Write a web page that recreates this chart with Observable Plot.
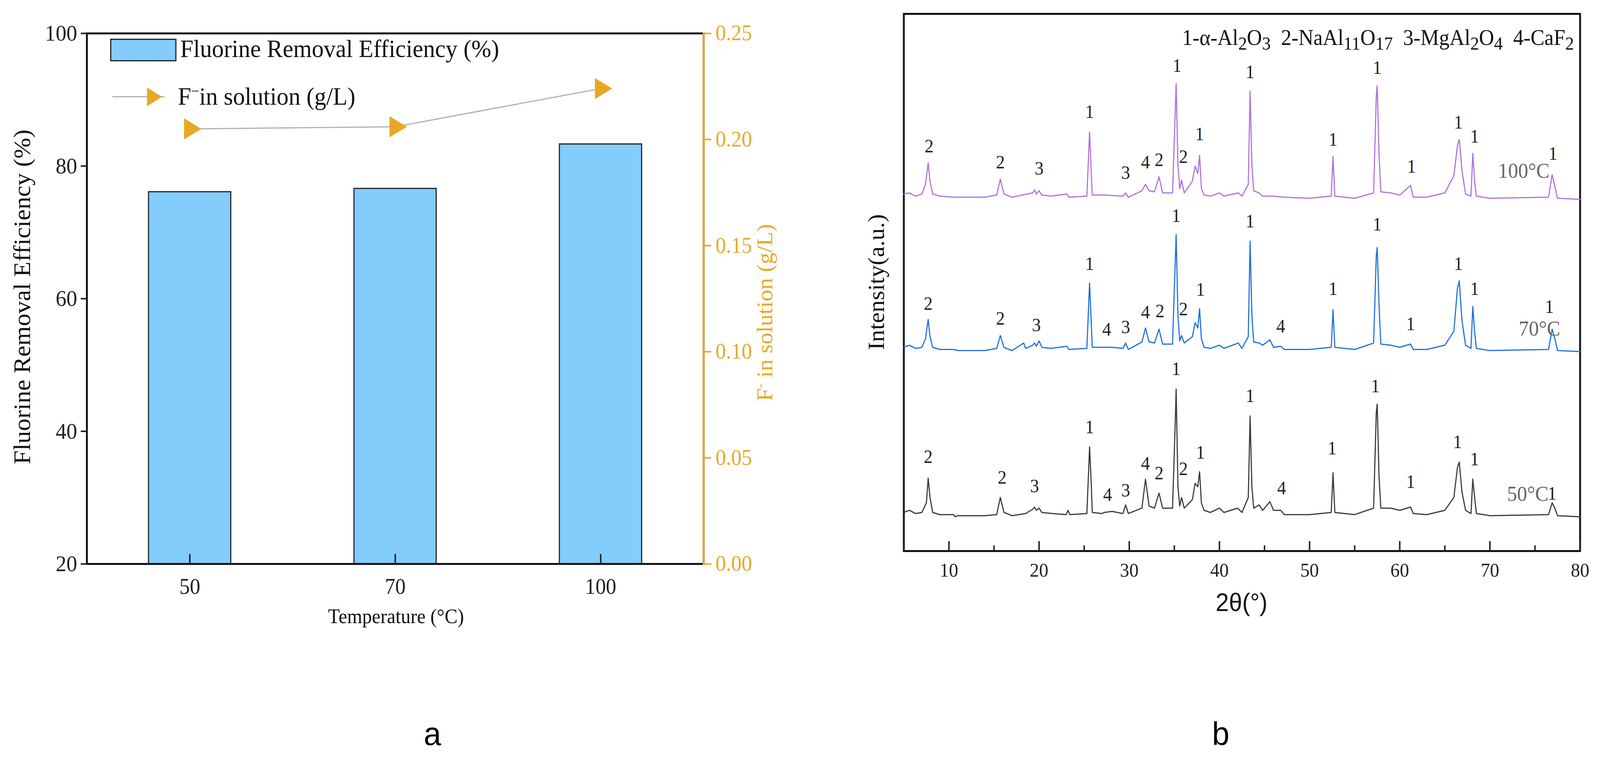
<!DOCTYPE html>
<html><head><meta charset="utf-8">
<script src="https://cdn.jsdelivr.net/npm/d3@7"></script>
<script src="https://cdn.jsdelivr.net/npm/@observablehq/plot@0.6"></script>
<style>
html,body{margin:0;background:#fff;overflow:hidden;}
#root{position:relative;width:4299px;height:1953px;transform-origin:0 0;font-family:"Liberation Serif",serif;}
#root svg, #root svg text{font-family:"Liberation Serif",serif !important;}
.abs{position:absolute;white-space:nowrap;}
.rot{transform:translate(-50%,-50%) rotate(-90deg);}
</style></head><body>
<div id="root"></div>
<script>
// ---------- Panel a data ----------
const temps = ["50","70","100"];
const efficiency = [76.1, 76.6, 83.3];
const fluoride = [0.205, 0.206, 0.224];
const leftTicks = [20,40,60,80,100];
const rightTicks = [0,0.05,0.10,0.15,0.20,0.25];

// ---------- Panel b data (2θ, intensity a.u.) ----------
const xrd50 = [[5,36],[5.6,38],[6.3,35],[7.0,36],[7.5,45],[7.7,68],[7.9,50],[8.2,36],[9,34],[10.5,34],[10.7,32],[11,33],[14,33],[15.3,34],[15.7,50],[16.1,36],[17,33],[18.5,35],[19.3,39],[19.5,41],[19.7,38],[20,40],[20.3,36],[21.5,35],[23,34],[23.2,38],[23.4,34],[25.3,35],[25.6,97],[25.8,60],[25.9,36],[27,35],[27.2,36],[28.1,37],[29.3,35],[29.6,43],[29.9,35],[31.4,40],[31.8,67],[32.2,42],[32.8,40],[33.3,54],[33.7,40],[34.8,40],[35.1,120],[35.2,151],[35.4,60],[35.6,42],[35.8,50],[36.1,40],[37.0,48],[37.3,63],[37.6,60],[37.8,74],[38.0,45],[38.3,38],[39,36],[40,40],[40.5,36],[42,40],[42.5,36],[43.2,50],[43.4,126],[43.6,60],[43.8,40],[44.4,43],[44.8,38],[45.6,46],[46,38],[46.8,38],[47.2,34],[50,34],[52.4,36],[52.6,73],[52.8,36],[55,34],[57.1,40],[57.4,130],[57.5,137],[57.7,70],[57.9,40],[59,40],[60,38],[61.2,41],[61.5,35],[63,34],[65,38],[66,50],[66.4,78],[66.6,83],[66.9,55],[67.3,38],[67.9,35],[68.1,67],[68.3,50],[68.5,35],[70,33],[76.5,34],[76.9,45],[77.2,40],[77.5,33],[80,32]];
const xrd70 = [[5,190],[5.6,192],[6.3,189],[7.0,190],[7.4,198],[7.7,216],[7.9,200],[8.2,190],[9,188],[10.5,188],[11,187],[14,187],[15.3,189],[15.7,201],[16.1,190],[17,187],[18.3,194],[18.5,189],[19.3,192],[19.5,194],[19.7,191],[20,196],[20.3,190],[21.3,189],[23.1,191],[23.3,188],[25.3,189],[25.6,250],[25.8,210],[25.9,190],[27.2,190],[28.1,190],[29.3,189],[29.6,194],[29.9,188],[31.4,195],[31.8,208],[32.2,195],[32.8,194],[33.3,207],[33.7,193],[34.8,193],[35.1,270],[35.2,295],[35.4,220],[35.6,196],[35.8,201],[36.1,194],[37.0,200],[37.3,213],[37.6,208],[37.8,226],[38.0,198],[38.3,190],[39,189],[40,192],[40.5,189],[42.1,194],[42.5,189],[43.2,200],[43.4,289],[43.6,220],[43.8,195],[44.4,194],[44.8,192],[45.6,197],[46,190],[46.8,191],[47.2,188],[50,188],[52.4,190],[52.6,225],[52.8,190],[55,188],[57.1,194],[57.4,276],[57.5,283],[57.7,230],[57.9,193],[59,192],[60,190],[61.2,193],[61.5,188],[63,188],[65,192],[66,205],[66.4,245],[66.6,252],[66.9,215],[67.3,192],[67.9,189],[68.1,228],[68.3,205],[68.5,189],[70,187],[76.5,188],[76.9,207],[77.2,198],[77.5,187],[80,186]];
const xrd100 = [[5,333],[5.6,334],[6.3,331],[7.0,333],[7.4,342],[7.7,362],[7.9,345],[8.2,333],[9,331],[10.5,330],[11,330],[14,330],[15.3,332],[15.7,347],[16.1,333],[17,330],[19.3,334],[19.5,337],[19.7,333],[20,336],[20.3,332],[21.3,331],[23.1,333],[23.3,330],[25.3,331],[25.6,391],[25.8,350],[25.9,332],[27.2,332],[29.3,331],[29.6,334],[29.9,330],[31.4,336],[31.8,342],[32.2,336],[32.8,335],[33.3,349],[33.7,334],[34.8,334],[35.1,410],[35.2,436],[35.4,360],[35.6,338],[35.8,346],[36.1,334],[37.0,345],[37.3,359],[37.6,352],[37.8,369],[38.0,338],[38.3,332],[39,331],[40,334],[40.5,331],[42.1,334],[42.5,331],[43.2,342],[43.4,429],[43.6,360],[43.8,336],[44.4,334],[44.8,331],[46,331],[47.2,330],[50,329],[52.4,331],[52.6,368],[52.8,331],[55,329],[57.1,334],[57.4,425],[57.5,434],[57.7,370],[57.9,335],[59,334],[60,332],[61.2,341],[61.5,330],[63,330],[65,334],[66,350],[66.4,378],[66.6,384],[66.9,355],[67.3,333],[67.9,331],[68.1,371],[68.3,345],[68.5,331],[70,329],[76.5,330],[76.9,351],[77.2,340],[77.5,329],[80,328]];
const labels50 = [[7.7,82,"2"],[15.9,63,"2"],[19.5,55,"3"],[25.6,110,"1"],[27.6,47,"4"],[29.6,51,"3"],[31.8,76,"4"],[33.3,67,"2"],[35.2,164,"1"],[36,71,"2"],[37.9,86,"1"],[43.4,139,"1"],[46.9,53,"4"],[52.5,90,"1"],[57.3,148,"1"],[61.2,59,"1"],[66.4,96,"1"],[68.3,80,"1"],[76.9,48,"1"]];
const labels70 = [[7.7,225,"2"],[15.7,211,"2"],[19.7,205,"3"],[25.6,262,"1"],[27.5,201,"4"],[29.6,203,"3"],[31.8,217,"4"],[33.4,218,"2"],[35.2,307,"1"],[36,220,"2"],[37.9,238,"1"],[43.4,302,"1"],[46.8,204,"4"],[52.6,239,"1"],[57.5,299,"1"],[61.2,206,"1"],[66.5,262,"1"],[68.3,239,"1"],[76.6,222,"1"]];
const labels100 = [[7.8,372,"2"],[15.7,357,"2"],[20,351,"3"],[25.6,404,"1"],[29.6,347,"3"],[31.8,357,"4"],[33.3,359,"2"],[35.3,447,"1"],[36,362,"2"],[37.8,383,"1"],[43.4,441,"1"],[52.6,378,"1"],[57.5,445,"1"],[61.3,353,"1"],[66.5,394,"1"],[68.3,381,"1"],[77,365,"1"]];
const seriesNames = ["50°C","70°C","100°C"];
const seriesColors = ["#3a3a3a","#1f6fe0","#b072dc"];
const seriesLabelPos = [[71.9,47],[73.2,201],[70.9,348]];

const serif = "Liberation Serif";
const gold = "#e8a825";
const root = document.getElementById("root");
root.style.transform = `scale(${window.innerWidth / 4299}, ${window.innerHeight / 1953})`;

// ---------- Panel a ----------
const toLeft = v => 20 + v / 0.25 * 80;
const rowsA = temps.map((t,i)=>({t, eff: efficiency[i], f: toLeft(fluoride[i])}));
const plotA = Plot.plot({
  width: 2100, height: 1600,
  marginLeft: 233, marginRight: 210, marginTop: 85, marginBottom: 157,
  style: {fontFamily: serif, background: "transparent", overflow: "visible"},
  x: {type: "band", domain: temps, padding: 0.6, paddingOuter: 0.3, label: null},
  y: {domain: [20, 100], label: null},
  marks: [
    Plot.barY(rowsA, {x: "t", y1: 20, y2: "eff", fill: "#82cdfc", stroke: "#222", strokeWidth: 3}),
    Plot.frame({stroke: "#111", strokeWidth: 5}),
    Plot.frame({anchor: "right", stroke: gold, strokeWidth: 5}),
    Plot.axisY({anchor: "left", ticks: leftTicks, tickSize: 16, tickPadding: 10, fontSize: 58, fontFamily: serif, tickFormat: d => d, strokeWidth: 4, color: "#222"}),
    Plot.axisY({anchor: "right", ticks: rightTicks.map(toLeft), tickSize: 20, tickPadding: 12, fontSize: 56, fontFamily: serif,
      tickFormat: d => ((d - 20) / 80 * 0.25).toFixed(2), color: gold, strokeWidth: 4}),
    Plot.axisX({anchor: "bottom", tickSize: -25, tickPadding: 62, fontSize: 56, fontFamily: serif, strokeWidth: 4, color: "#222"}),
    Plot.lineY(rowsA, {x: "t", y: "f", stroke: "#b0b0b0", strokeWidth: 3}),
    Plot.dot(rowsA, {x: "t", y: "f", symbol: "triangle", rotate: 90, r: 20, fill: gold, stroke: "none"})
  ]
});
plotA.style.position = "absolute"; plotA.style.left = "0px"; plotA.style.top = "0px";
root.appendChild(plotA);

// ---------- Panel b ----------
const toRows = (arr, s) => arr.map(([x,y]) => ({x, y, s}));
const linesB = [...toRows(xrd50, seriesNames[0]), ...toRows(xrd70, seriesNames[1]), ...toRows(xrd100, seriesNames[2])];
const labRows = [...labels50, ...labels70, ...labels100].map(([x,y,t]) => ({x, y, t}));
const nameRows = seriesNames.map((s,i)=>({s, x: seriesLabelPos[i][0], y: seriesLabelPos[i][1]}));
const plotB = Plot.plot({
  width: 2099, height: 1600,
  marginLeft: 228, marginRight: 54, marginTop: 35, marginBottom: 190,
  style: {fontFamily: serif, background: "transparent", overflow: "visible"},
  x: {domain: [5, 80], label: null},
  y: {domain: [0, 501], axis: null},
  color: {domain: seriesNames, range: seriesColors},
  marks: [
    Plot.frame({stroke: "#111", strokeWidth: 5}),
    Plot.axisX({ticks: d3.range(10, 81, 10), tickSize: -25, tickPadding: 55, fontSize: 50, fontFamily: serif, strokeWidth: 4, color: "#222"}),
    Plot.axisX({ticks: d3.range(5, 80, 10), tickSize: -14, tickFormat: () => "", strokeWidth: 4, color: "#222"}),
    Plot.line(linesB, {x: "x", y: "y", z: "s", stroke: "s", strokeWidth: 3}),
    Plot.text(labRows, {x: "x", y: "y", text: "t", fontSize: 48, fontFamily: serif, fill: "#222", lineAnchor: "bottom"}),
    Plot.text(nameRows, {x: "x", y: "y", text: "s", fontSize: 54, fontFamily: serif, fill: "#666", textAnchor: "start", lineAnchor: "bottom"})
  ]
});
plotB.style.position = "absolute"; plotB.style.left = "2200px"; plotB.style.top = "0px";
root.appendChild(plotB);

// ---------- Texts ----------
function addDiv(html, css){ const d = document.createElement("div"); d.className = "abs"; d.innerHTML = html; Object.assign(d.style, css); root.appendChild(d); return d; }
addDiv("", {left:"296px", top:"99px", width:"172px", height:"52px", background:"#82cdfc", border:"3px solid #222"});
addDiv("Fluorine Removal Efficiency (%)", {left:"484px", top:"88px", fontSize:"64px", color:"#111"});
addDiv("", {left:"302px", top:"246px", width:"140px", height:"3px", background:"#b0b0b0"});
addDiv("", {left:"395px", top:"224px", width:"0", height:"0", borderTop:"24px solid transparent", borderBottom:"24px solid transparent", borderLeft:"40px solid " + gold});
addDiv("F<sup style='font-size:0.6em'>−</sup>in solution (g/L)", {left:"478px", top:"210px", fontSize:"64px", color:"#111"});
addDiv("Fluorine Removal Efficiency (%)", {left:"60px", top:"760px", fontSize:"64px", color:"#111"}).classList.add("rot");
addDiv("F<sup style='font-size:0.6em'>-</sup> in solution (g/L)", {left:"2055px", top:"800px", fontSize:"60px", color:gold}).classList.add("rot");
addDiv("Temperature (°C)", {left:"1064px", top:"1548px", fontSize:"52px", color:"#111", transform:"translateX(-50%)"});
addDiv("Intensity(a.u.)", {left:"2355px", top:"722px", fontSize:"62px", color:"#111"}).classList.add("rot");
addDiv("2θ(°)", {left:"3336px", top:"1505px", fontSize:"64px", color:"#111", fontFamily:"Liberation Sans", transform:"translateX(-50%)"});
addDiv("1-α-Al<sub>2</sub>O<sub>3</sub>&nbsp; 2-NaAl<sub>11</sub>O<sub>17</sub>&nbsp; 3-MgAl<sub>2</sub>O<sub>4</sub>&nbsp; 4-CaF<sub>2</sub>",
  {right:"70px", top:"64px", fontSize:"56px", color:"#111"});
addDiv("a", {left:"1162px", top:"1830px", fontSize:"84px", fontFamily:"Liberation Sans", transform:"translateX(-50%)"});
addDiv("b", {left:"3280px", top:"1830px", fontSize:"84px", fontFamily:"Liberation Sans", transform:"translateX(-50%)"});
</script>
</body></html>
